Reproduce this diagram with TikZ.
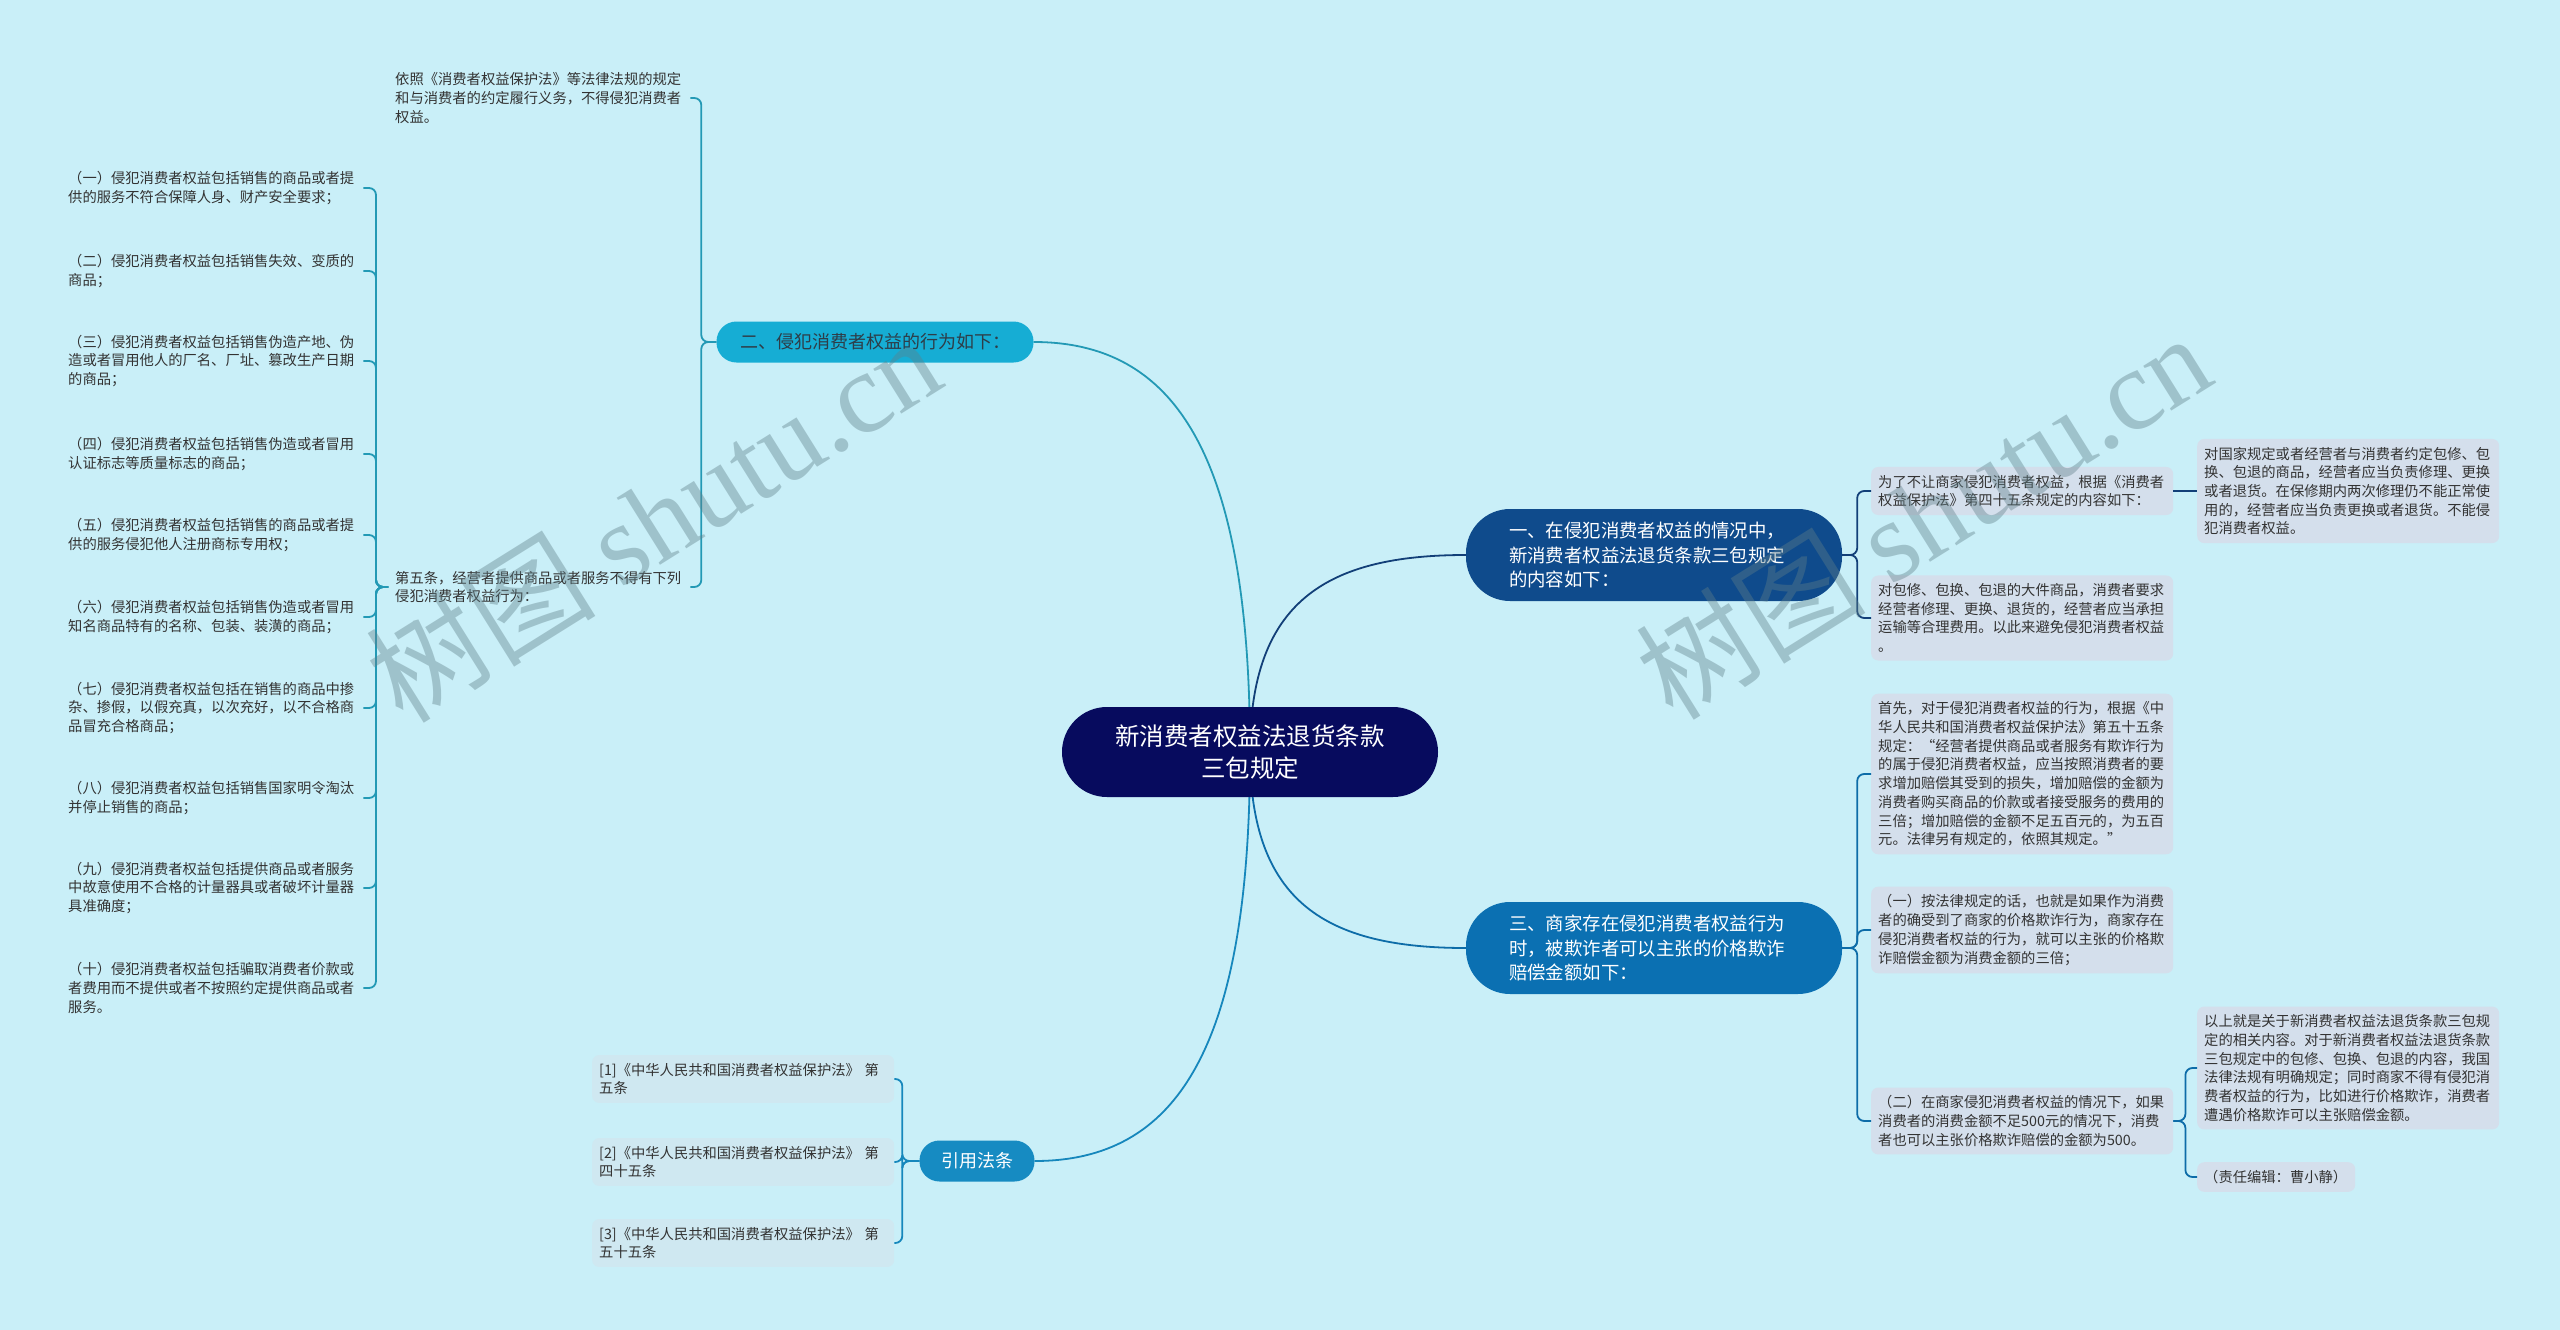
\documentclass[tikz,border=0pt]{standalone}
\usepackage{fontspec}
\setmainfont{Noto Sans CJK SC}
\newfontfamily\wmserif{Liberation Serif}
\usepackage{xcolor}
\usepackage{tikz}
\usetikzlibrary{backgrounds}
\definecolor{mapbg}{HTML}{C9EFF8}
\definecolor{rootnavy}{HTML}{070B5E}
\definecolor{navybranch}{HTML}{0F4B8C}
\definecolor{cyanbranch}{HTML}{16ADD4}
\definecolor{bluebranch}{HTML}{0B70B2}
\definecolor{skybranch}{HTML}{168BC2}
\definecolor{boxgray}{HTML}{D4DFEC}
\definecolor{refblue}{HTML}{CFE8F1}
\definecolor{leafgray}{HTML}{333333}
\definecolor{cyantext}{HTML}{2E3D48}
\definecolor{navyline}{HTML}{123F78}
\definecolor{cyanline}{HTML}{2399B5}
\definecolor{blueline}{HTML}{0D6CA8}
\definecolor{skyline}{HTML}{1687BC}
\definecolor{wmgray}{HTML}{5F7F88}
\tikzset{
  rootnode/.style={fill=rootnavy,text=white,rounded corners=45pt,minimum width=376pt,minimum height=90pt,text width=300pt,align=center,font=\fontsize{24.5}{32}\selectfont},
  branch/.style={rounded corners=44pt,minimum width=376pt,minimum height=92pt,text width=290pt,align=left,text=white,font=\fontsize{18.4}{24.5}\selectfont},
  smallbranch/.style={rounded corners=20pt,minimum height=41pt,align=center,font=\fontsize{18}{24}\selectfont},
  leaftext/.style={anchor=west,inner xsep=7pt,inner ysep=8pt,text width=288pt,align=left,text=leafgray,font=\fontsize{14.3}{18.7}\selectfont},
  leafbox/.style={leaftext,fill=boxgray,rounded corners=7pt},
  refbox/.style={leaftext,fill=refblue,rounded corners=7pt},
  mainline/.style={line width=1.8pt},
  bracket/.style={line width=1.8pt,rounded corners=7pt},
  watermark/.style={text=wmgray,text opacity=.4,font=\fontsize{115}{115}\selectfont}
}
\begin{document}
\begin{tikzpicture}[x=1pt,y=-1pt]
\useasboundingbox (0,0) rectangle (2560,1330);
\node[rootnode] (root) at (1250,752) {新消费者权益法退货条款\\三包规定};
\node[branch,fill=navybranch] (cont) at (1654,555) {一、在侵犯消费者权益的情况中，\\新消费者权益法退货条款三包规定\\的内容如下：};
\node[smallbranch,fill=cyanbranch,text=cyantext,minimum width=317pt] (act) at (875,342) {二、侵犯消费者权益的行为如下：};
\node[branch,fill=bluebranch] (comp) at (1654,948) {三、商家存在侵犯消费者权益行为\\时，被欺诈者可以主张的价格欺诈\\赔偿金额如下：};
\node[smallbranch,fill=skybranch,text=white,minimum width=115pt] (laws) at (977,1161) {引用法条};

\node[leaftext] (actlaw) at (388,98) {依照《消费者权益保护法》等法律法规的规定\\和与消费者的约定履行义务，不得侵犯消费者\\权益。};
\node[leaftext] (actfive) at (388,587) {第五条，经营者提供商品或者服务不得有下列\\侵犯消费者权益行为：};
\node[leaftext] (item1) at (61,188) {（一）侵犯消费者权益包括销售的商品或者提\\供的服务不符合保障人身、财产安全要求；};
\node[leaftext] (item2) at (61,271) {（二）侵犯消费者权益包括销售失效、变质的\\商品；};
\node[leaftext] (item3) at (61,361) {（三）侵犯消费者权益包括销售伪造产地、伪\\造或者冒用他人的厂名、厂址、篡改生产日期\\的商品；};
\node[leaftext] (item4) at (61,454) {（四）侵犯消费者权益包括销售伪造或者冒用\\认证标志等质量标志的商品；};
\node[leaftext] (item5) at (61,535) {（五）侵犯消费者权益包括销售的商品或者提\\供的服务侵犯他人注册商标专用权；};
\node[leaftext] (item6) at (61,617) {（六）侵犯消费者权益包括销售伪造或者冒用\\知名商品特有的名称、包装、装潢的商品；};
\node[leaftext] (item7) at (61,708) {（七）侵犯消费者权益包括在销售的商品中掺\\杂、掺假，以假充真，以次充好，以不合格商\\品冒充合格商品；};
\node[leaftext] (item8) at (61,798) {（八）侵犯消费者权益包括销售国家明令淘汰\\并停止销售的商品；};
\node[leaftext] (item9) at (61,888) {（九）侵犯消费者权益包括提供商品或者服务\\中故意使用不合格的计量器具或者破坏计量器\\具准确度；};
\node[leaftext] (item10) at (61,988) {（十）侵犯消费者权益包括骗取消费者价款或\\者费用而不提供或者不按照约定提供商品或者\\服务。};

\node[leafbox] (contlaw) at (1871,491) {为了不让商家侵犯消费者权益，根据《消费者\\权益保护法》第四十五条规定的内容如下：};
\node[leafbox] (contdetail) at (2197,491) {对国家规定或者经营者与消费者约定包修、包\\换、包退的商品，经营者应当负责修理、更换\\或者退货。在保修期内两次修理仍不能正常使\\用的，经营者应当负责更换或者退货。不能侵\\犯消费者权益。};
\node[leafbox] (contbig) at (1871,618) {对包修、包换、包退的大件商品，消费者要求\\经营者修理、更换、退货的，经营者应当承担\\运输等合理费用。以此来避免侵犯消费者权益\\。};

\node[leafbox] (compfirst) at (1871,774) {首先，对于侵犯消费者权益的行为，根据《中\\华人民共和国消费者权益保护法》第五十五条\\规定：“经营者提供商品或者服务有欺诈行为\\的属于侵犯消费者权益，应当按照消费者的要\\求增加赔偿其受到的损失，增加赔偿的金额为\\消费者购买商品的价款或者接受服务的费用的\\三倍；增加赔偿的金额不足五百元的，为五百\\元。法律另有规定的，依照其规定。”};
\node[leafbox] (compone) at (1871,930) {（一）按法律规定的话，也就是如果作为消费\\者的确受到了商家的价格欺诈行为，商家存在\\侵犯消费者权益的行为，就可以主张的价格欺\\诈赔偿金额为消费金额的三倍；};
\node[leafbox] (comptwo) at (1871,1121) {（二）在商家侵犯消费者权益的情况下，如果\\消费者的消费金额不足500元的情况下，消费\\者也可以主张价格欺诈赔偿的金额为500。};
\node[leafbox] (compsum) at (2197,1068) {以上就是关于新消费者权益法退货条款三包规\\定的相关内容。对于新消费者权益法退货条款\\三包规定中的包修、包换、包退的内容，我国\\法律法规有明确规定；同时商家不得有侵犯消\\费者权益的行为，比如进行价格欺诈，消费者\\遭遇价格欺诈可以主张赔偿金额。};
\node[leafbox,text width=144pt] (compeditor) at (2197,1177) {（责任编辑：曹小静）};

\node[refbox] (law1) at (592,1079) {[1]《中华人民共和国消费者权益保护法》 第\\五条};
\node[refbox] (law2) at (592,1162) {[2]《中华人民共和国消费者权益保护法》 第\\四十五条};
\node[refbox] (law3) at (592,1243) {[3]《中华人民共和国消费者权益保护法》 第\\五十五条};

\draw[bracket,cyanline] (act.west) -- ++(-15,0) |- (actlaw.east);
\draw[bracket,cyanline] (act.west) -- ++(-15,0) |- (actfive.east);
\draw[bracket,cyanline] (actfive.west) -- ++(-12,0) |- (item1.east);
\draw[bracket,cyanline] (actfive.west) -- ++(-12,0) |- (item2.east);
\draw[bracket,cyanline] (actfive.west) -- ++(-12,0) |- (item3.east);
\draw[bracket,cyanline] (actfive.west) -- ++(-12,0) |- (item4.east);
\draw[bracket,cyanline] (actfive.west) -- ++(-12,0) |- (item5.east);
\draw[bracket,cyanline] (actfive.west) -- ++(-12,0) |- (item6.east);
\draw[bracket,cyanline] (actfive.west) -- ++(-12,0) |- (item7.east);
\draw[bracket,cyanline] (actfive.west) -- ++(-12,0) |- (item8.east);
\draw[bracket,cyanline] (actfive.west) -- ++(-12,0) |- (item9.east);
\draw[bracket,cyanline] (actfive.west) -- ++(-12,0) |- (item10.east);

\draw[bracket,navyline] (cont.east) -- ++(15,0) |- (contlaw.west);
\draw[bracket,navyline] (cont.east) -- ++(15,0) |- (contbig.west);
\draw[mainline,navyline] (contlaw.east) -- (contdetail.west);

\draw[bracket,blueline] (comp.east) -- ++(15,0) |- (compfirst.west);
\draw[bracket,blueline] (comp.east) -- ++(15,0) |- (compone.west);
\draw[bracket,blueline] (comp.east) -- ++(15,0) |- (comptwo.west);
\draw[bracket,blueline] (comptwo.east) -- ++(12,0) |- (compsum.west);
\draw[bracket,blueline] (comptwo.east) -- ++(12,0) |- (compeditor.west);

\draw[bracket,skyline] (laws.west) -- ++(-17,0) |- (law1.east);
\draw[bracket,skyline] (laws.west) -- ++(-17,0) |- (law2.east);
\draw[bracket,skyline] (laws.west) -- ++(-17,0) |- (law3.east);

\begin{pgfonlayer}{background}
\fill[mapbg] (0,0) rectangle (2560,1330);
\draw[mainline,cyanline] (root.center) .. controls +(0,-300) and +(140,0) .. (act.east);
\draw[mainline,navyline] (root.center) .. controls +(0,-150) and +(-140,0) .. (cont.west);
\draw[mainline,blueline] (root.center) .. controls +(0,150) and +(-140,0) .. (comp.west);
\draw[mainline,skyline] (root.center) .. controls +(0,300) and +(140,0) .. (laws.east);
\end{pgfonlayer}

\node[watermark,rotate=32] (wmleft) at (653,518) {树图 {\wmserif shutu.cn}};
\node[watermark,rotate=32] (wmright) at (1923,515) {树图 {\wmserif shutu.cn}};
\end{tikzpicture}
\end{document}
